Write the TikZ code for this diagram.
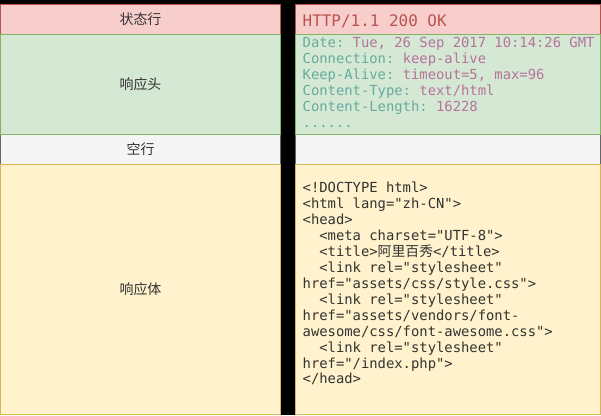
\documentclass[tikz,border=0pt]{standalone}
\usepackage{fontspec}
\setmonofont{DejaVu Sans Mono}
\newfontfamily\cjk{Noto Sans CJK SC}
\definecolor{redfill}{HTML}{F8CECC}
\definecolor{redline}{HTML}{B85450}
\definecolor{greenfill}{HTML}{D5E8D4}
\definecolor{greenline}{HTML}{82B366}
\definecolor{greyfill}{HTML}{F5F5F5}
\definecolor{greyline}{HTML}{666666}
\definecolor{yellowfill}{HTML}{FFF2CC}
\definecolor{yellowline}{HTML}{D6B656}
\definecolor{txt}{HTML}{333333}
\definecolor{keyc}{HTML}{67AB9F}
\definecolor{valc}{HTML}{B5739D}
\begin{document}
\begin{tikzpicture}[x=1bp,y=-1bp,
  box/.style={draw, line width=1bp, inner sep=0pt, outer sep=0pt, anchor=north west},
  lbox/.style={box, minimum width=280bp, text=txt, font=\cjk\fontsize{14}{16}\selectfont},
  rbox/.style={box, minimum width=305bp},
  redbox/.style={fill=redfill, draw=redline},
  greenbox/.style={fill=greenfill, draw=greenline},
  greybox/.style={fill=greyfill, draw=greyline},
  yellowbox/.style={fill=yellowfill, draw=yellowline},
  code/.style={anchor=north west, inner sep=0pt, align=left, text=txt, font=\ttfamily\fontsize{13.9}{16}\selectfont}]
\useasboundingbox[fill=black] (0,0) rectangle (601,415);
% left column
\node[lbox, redbox, minimum height=30bp] (status) at (0.5,4.5) {状态行};
\node[lbox, greybox, minimum height=30bp] (blank) at (0.5,134.5) {空行};
\node[lbox, greenbox, minimum height=100bp] (header) at (0.5,34.5) {响应头};
\node[lbox, yellowbox, minimum height=250bp] (body) at (0.5,164.5) {响应体};
% right column
\node[rbox, redbox, minimum height=30bp] (rstatus) at (295.5,4.5) {};
\node[rbox, greybox, minimum height=30bp] (rblank) at (295.5,134.5) {};
\node[rbox, greenbox, minimum height=100bp] (rheader) at (295.5,34.5) {};
\node[rbox, yellowbox, minimum height=250bp] (rbody) at (295.5,164.5) {};
% texts
\node[anchor=base west, inner sep=0pt, text=redline, font=\ttfamily\fontsize{16}{18}\selectfont] (statustext) at (302.5,26.5) {HTTP/1.1 200 OK};
\node[code] (headertext) at (302.5,36.3) {%
\strut\textcolor{keyc}{Date:} \textcolor{valc}{Tue, 26 Sep 2017 10:14:26 GMT}\\
\textcolor{keyc}{Connection:} \textcolor{valc}{keep-alive}\\
\textcolor{keyc}{Keep-Alive:} \textcolor{valc}{timeout=5, max=96}\\
\textcolor{keyc}{Content-Type:} \textcolor{valc}{text/html}\\
\textcolor{keyc}{Content-Length:} \textcolor{valc}{16228}\\
\textcolor{keyc}{......}};
\node[code] (bodytext) at (302.5,181.3) {%
\strut<!DOCTYPE html>\\
<html lang="zh-CN">\\
<head>\\
\phantom{xx}<meta charset="UTF-8">\\
\phantom{xx}<title>{\cjk 阿里百秀}</title>\\
\phantom{xx}<link rel="stylesheet"\\
href="assets/css/style.css">\\
\phantom{xx}<link rel="stylesheet"\\
href="assets/vendors/font-\\
awesome/css/font-awesome.css">\\
\phantom{xx}<link rel="stylesheet"\\
href="/index.php">\\
</head>};
\end{tikzpicture}
\end{document}
